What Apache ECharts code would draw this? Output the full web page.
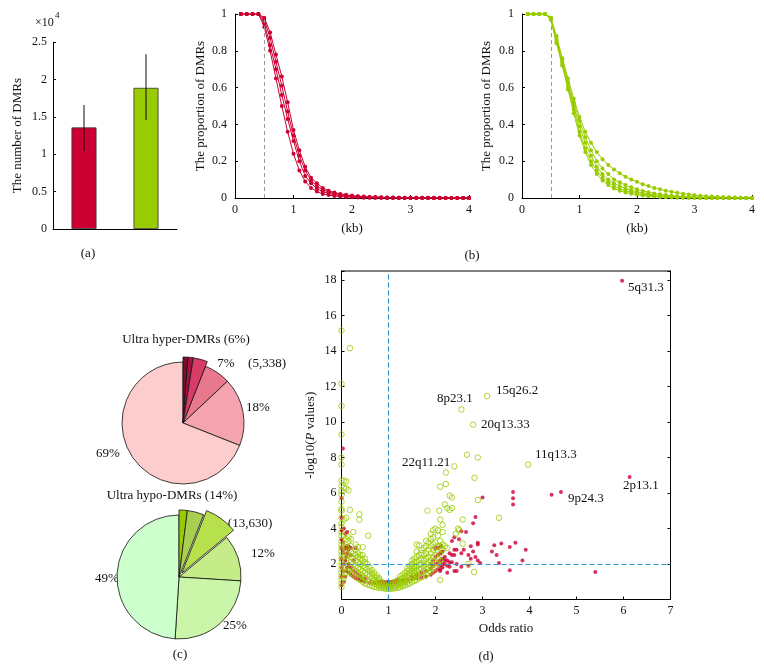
<!DOCTYPE html>
<html><head><meta charset="utf-8">
<script src="https://cdn.jsdelivr.net/npm/echarts@6/dist/echarts.min.js"></script>
<style>html,body{margin:0;padding:0;background:#fff}#c{width:764px;height:670px}</style>
</head><body><div id="c"></div>
<script>
const FONT = '"Liberation Serif", "DejaVu Serif", serif';
const RED = '#CC0033', GREEN = '#99CC00';

// ---------- (a) bar chart (units of 1e4) ----------
const barCategories = ['Hyper-DMRs', 'Hypo-DMRs'];
const barValues = [1.36, 1.89];
const barErrLow = [1.04, 1.46];
const barErrHigh = [1.66, 2.34];

// ---------- (b) proportion curves ----------
const kb = [0.1,0.2,0.3,0.4,0.5,0.6,0.7,0.8,0.9,1.0,1.1,1.2,1.3,1.4,1.5,1.6,1.7,1.8,1.9,2.0,
            2.1,2.2,2.3,2.4,2.5,2.6,2.7,2.8,2.9,3.0,3.1,3.2,3.3,3.4,3.5,3.6,3.7,3.8,3.9,4.0];
const redCurve1 = [1,1,1,1,0.98,0.90,0.78,0.66,0.52,0.37,0.26,0.17,0.11,0.08,0.055,0.04,0.03,0.022,0.017,0.013,0.010,0.008,0.006,0.005,0.004,0.003,0.003,0.002,0.002,0.002,0.001,0.001,0.001,0.001,0.001,0,0,0,0,0];
const redCurve2 = [1,1,1,1,0.97,0.87,0.74,0.61,0.47,0.34,0.23,0.15,0.095,0.065,0.045,0.033,0.025,0.018,0.013,0.010,0.008,0.006,0.005,0.004,0.003,0.002,0.002,0.002,0.001,0.001,0.001,0.001,0.001,0,0,0,0,0,0,0];
const redCurve3 = [1,1,1,1,0.95,0.83,0.70,0.56,0.43,0.31,0.20,0.12,0.08,0.05,0.035,0.025,0.018,0.013,0.010,0.007,0.005,0.004,0.003,0.002,0.002,0.001,0.001,0.001,0,0,0,0,0,0,0,0,0,0,0,0];
const redCurve4 = [1,1,1,1,0.93,0.80,0.65,0.50,0.36,0.24,0.15,0.09,0.055,0.035,0.022,0.016,0.011,0.008,0.006,0.004,0.003,0.002,0.002,0.001,0.001,0,0,0,0,0,0,0,0,0,0,0,0,0,0,0];
const greenCurve1 = [1,1,1,1,0.98,0.88,0.76,0.65,0.54,0.44,0.36,0.30,0.25,0.21,0.18,0.155,0.135,0.115,0.10,0.088,0.075,0.065,0.055,0.047,0.040,0.034,0.028,0.023,0.019,0.015,0.012,0.010,0.008,0.006,0.005,0.004,0.003,0.002,0.002,0.001];
const greenCurve2 = [1,1,1,1,0.98,0.87,0.75,0.63,0.52,0.42,0.33,0.26,0.20,0.16,0.13,0.10,0.085,0.07,0.058,0.047,0.038,0.031,0.025,0.020,0.016,0.013,0.010,0.008,0.007,0.005,0.004,0.004,0.003,0.002,0.002,0.001,0.001,0.001,0,0];
const greenCurve3 = [1,1,1,1,0.98,0.86,0.74,0.62,0.50,0.39,0.30,0.23,0.17,0.13,0.10,0.08,0.065,0.052,0.042,0.034,0.027,0.021,0.017,0.013,0.010,0.008,0.006,0.005,0.004,0.003,0.002,0.002,0.001,0.001,0.001,0,0,0,0,0];
const greenCurve4 = [1,1,1,1,0.97,0.85,0.73,0.60,0.48,0.36,0.27,0.20,0.15,0.11,0.085,0.065,0.05,0.04,0.032,0.025,0.019,0.015,0.011,0.009,0.007,0.005,0.004,0.003,0.002,0.002,0.001,0.001,0.001,0,0,0,0,0,0,0];
const greenCurve5 = [1,1,1,1,0.97,0.84,0.72,0.59,0.46,0.34,0.25,0.18,0.13,0.095,0.07,0.052,0.04,0.03,0.023,0.018,0.013,0.010,0.008,0.006,0.004,0.003,0.002,0.002,0.001,0.001,0.001,0,0,0,0,0,0,0,0,0];
const redCurves = [redCurve1, redCurve2, redCurve3, redCurve4];
const greenCurves = [greenCurve1, greenCurve2, greenCurve3, greenCurve4, greenCurve5];
const kbCutoff = 0.5;

// ---------- (c) pies ----------
const hyperNames = ['h1','h2','h3','7%','18%','69%'];
const hyperValues = [1.2, 1.3, 3.5, 7, 18, 69];
const hyperColors = ['#7A0C2E','#A8123F','#D83C66','#E8788E','#F4A4AE','#FDCDCD'];
const hypoNames = ['o1','o2','o3','12%','25%','49%'];
const hypoValues = [2, 4, 8, 12, 25, 49];
const hypoColors = ['#99CC00','#A9CE50','#B6E04C','#C6EC8A','#CBF5A8','#CCFFCC'];

// ---------- (d) volcano-like scatter ----------
const redPoints = [
 [5.97,17.95],[6.13,6.9],[4.47,5.9],[4.67,6.05],[5.4,1.55],[3.58,1.65],[3.0,5.75],[3.65,6.05],[3.65,5.7],[3.65,5.35],
 [2.85,4.65],[2.8,4.3],[2.55,3.85],[2.65,3.8],[2.4,3.5],[2.35,3.3],[2.5,3.4],[2.75,3.0],[2.9,3.2],[2.9,3.1],
 [3.2,2.7],[3.25,3.05],[3.4,3.15],[3.3,2.5],[3.35,2.05],[3.58,2.95],[3.7,3.2],[3.92,2.8],[3.85,2.2],[2.6,2.8],
 [2.45,2.8],[2.55,2.6],[2.7,2.5],[2.75,2.3],[2.8,2.7],[2.85,2.4],[2.9,2.2],[2.95,2.05],[2.7,1.9],[2.55,1.85],
 [2.45,1.6],[2.3,1.85],[2.35,2.1],[2.4,2.5],[2.3,2.6],[2.2,2.4],[2.2,2.0],[2.15,1.8],[2.1,1.6],[2.25,1.5],
 [2.12,3.0],[2.05,2.9],[2.2,2.2],[2.4,1.6],[2.45,2.0],[2.25,2.2],[2.15,2.3],[2.1,2.6],[2.05,2.1],[2.0,2.4],
 [0,0.8],[0,1.3],[0,1.8],[0,2.3],[0,2.9],[0,3.4],[0,3.9],[0,4.6],[0,5.7],[0.03,8.5],
 [0.03,1.6],[0.03,2.6],[0.03,3.2],[0.05,1.0],[0.05,2.0],[0.05,2.8],[0.05,4.0],[0.08,1.3],[0.08,2.2],[0.08,2.9],
 [0.08,3.7],[0.1,1.6],[0.1,2.4],[0.1,3.0],[0.12,1.8],[0.12,2.6],[0.12,3.8],[0.15,1.5],[0.15,2.0],[0.15,2.8],
 [0.15,3.0],[0.2,1.4],[0.2,1.8],[0.2,2.5],[0.2,2.9],[0.25,1.3],[0.25,1.6],[0.25,2.2],[0.3,1.2],[0.3,1.5],
 [0.3,2.9],[0.35,1.15],[0.35,1.4],[0.4,1.1],[0.4,1.3],[0.45,1.05],[0.5,1.0],[0.5,1.2],[0.6,0.95],[0.7,0.95],
 [0.8,0.95],[0.8,1.0],[0.85,0.9],[0.85,1.0],[0.9,0.88],[0.9,0.98],[0.95,0.87],[0.95,0.97],[1.0,0.88],[1.0,0.98],
 [1.05,0.9],[1.05,1.0],[1.1,0.92],[1.1,1.02],[1.15,0.95],[1.15,1.05],[1.2,1.0],[1.2,1.1],[1.3,1.05],[1.4,1.1],
 [1.5,1.15],[1.5,1.3],[1.6,1.2],[1.6,1.4],[1.7,1.25],[1.7,1.5],[1.8,1.3],[1.8,1.6],[1.9,1.4],[1.9,1.75],
 [1.9,2.0],[1.95,1.5],[1.95,1.9],[1.95,2.2],[2.0,1.6],[2.0,2.0],[2.0,2.9],[2.05,1.7],[2.05,2.5],[2.1,1.7],
 [2.1,1.9],[2.1,2.2],[2.15,2.0],[2.15,2.7],[2.25,1.9],[2.3,2.1],[2.35,2.5],[2.4,2.8]
];
const greenPoints = [
 [0,0.7],[0,0.9],[0,1.1],[0,1.3],[0,1.5],[0,1.7],[0,1.9],[0,2.1],[0,2.3],[0,2.5],[0,2.7],[0,2.9],[0,3.1],[0,3.3],
 [0,3.6],[0,3.8],[0,4.1],[0,4.3],[0,4.6],[0,5.0],[0,5.1],[0,5.5],[0,5.9],[0,6.1],[0,6.4],[0,6.7],[0,7.6],[0,8.0],
 [0,9.3],[0,10.9],[0,12.15],[0,15.15],
 [0.05,1.2],[0.05,1.8],[0.05,2.4],[0.05,3.0],[0.05,3.6],[0.05,4.5],[0.05,6.3],[0.05,6.7],
 [0.1,1.5],[0.1,2.2],[0.1,2.9],[0.1,3.4],[0.1,4.6],[0.1,6.25],[0.1,6.65],
 [0.15,1.6],[0.15,2.5],[0.15,3.3],[0.15,3.5],[0.15,6.15],[0.18,14.15],[0.18,5.05],
 [0.2,1.5],[0.2,1.8],[0.2,2.1],[0.2,2.4],[0.2,2.7],[0.2,3.0],[0.2,3.4],
 [0.25,1.4],[0.25,1.7],[0.25,2.0],[0.25,2.3],[0.25,2.6],[0.25,3.8],
 [0.3,1.3],[0.3,1.6],[0.3,1.9],[0.3,2.2],[0.3,2.5],[0.3,2.8],[0.3,3.1],
 [0.35,1.2],[0.35,1.5],[0.35,1.8],[0.35,2.1],[0.35,2.4],[0.35,2.6],[0.35,2.95],
 [0.38,4.8],[0.38,4.5],
 [0.4,1.1],[0.4,1.4],[0.4,1.7],[0.4,2.0],[0.4,2.3],[0.4,2.5],
 [0.45,1.0],[0.45,1.3],[0.45,1.6],[0.45,1.9],[0.45,2.2],[0.45,2.5],[0.45,2.95],
 [0.5,0.9],[0.5,1.2],[0.5,1.5],[0.5,1.8],[0.5,2.1],[0.5,2.3],
 [0.55,0.85],[0.55,1.1],[0.55,1.4],[0.55,1.7],[0.55,2.0],[0.57,3.6],
 [0.6,0.8],[0.6,1.0],[0.6,1.3],[0.6,1.6],[0.6,1.8],
 [0.65,0.75],[0.65,0.95],[0.65,1.2],[0.65,1.45],[0.65,1.65],
 [0.7,0.7],[0.7,0.9],[0.7,1.1],[0.7,1.3],[0.7,1.5],
 [0.75,0.7],[0.75,0.85],[0.75,1.0],[0.75,1.2],[0.75,1.35],
 [0.8,0.65],[0.8,0.8],[0.8,0.95],[0.8,1.1],[0.8,1.2],
 [0.85,0.65],[0.85,0.75],[0.85,0.9],[0.85,1.0],
 [0.9,0.62],[0.9,0.72],[0.9,0.82],[0.9,0.92],
 [0.95,0.6],[0.95,0.7],[0.95,0.8],
 [1.0,0.6],[1.0,0.68],[1.0,0.78],
 [1.05,0.6],[1.05,0.7],[1.05,0.8],[1.05,0.9],
 [1.1,0.62],[1.1,0.72],[1.1,0.85],[1.1,0.95],
 [1.15,0.64],[1.15,0.75],[1.15,0.9],[1.15,1.0],
 [1.2,0.66],[1.2,0.8],[1.2,0.95],[1.2,1.1],
 [1.25,0.7],[1.25,0.85],[1.25,1.0],[1.25,1.15],[1.25,1.3],
 [1.3,0.75],[1.3,0.9],[1.3,1.05],[1.3,1.2],[1.3,1.4],
 [1.35,0.8],[1.35,0.95],[1.35,1.1],[1.35,1.3],[1.35,1.5],
 [1.4,0.85],[1.4,1.0],[1.4,1.2],[1.4,1.4],[1.4,1.6],[1.4,1.75],
 [1.45,0.9],[1.45,1.1],[1.45,1.3],[1.45,1.5],[1.45,1.7],[1.45,1.9],
 [1.5,1.0],[1.5,1.2],[1.5,1.4],[1.5,1.6],[1.5,1.8],[1.5,2.0],[1.5,2.2],
 [1.55,1.05],[1.55,1.3],[1.55,1.5],[1.55,1.7],[1.55,1.9],[1.55,2.1],[1.55,2.3],
 [1.6,1.1],[1.6,1.35],[1.6,1.6],[1.6,1.85],[1.6,2.1],[1.6,2.4],[1.6,2.7],[1.6,3.1],
 [1.65,1.2],[1.65,1.45],[1.65,1.7],[1.65,1.95],[1.65,2.2],[1.65,2.5],[1.65,3.05],
 [1.7,1.25],[1.7,1.5],[1.7,1.75],[1.7,2.0],[1.7,2.3],[1.7,2.6],[1.7,2.8],
 [1.75,1.3],[1.75,1.6],[1.75,1.9],[1.75,2.2],[1.75,2.5],[1.75,2.9],
 [1.8,1.4],[1.8,1.7],[1.8,2.0],[1.8,2.3],[1.8,2.6],[1.8,3.0],[1.8,3.3],[1.83,5.0],
 [1.85,1.5],[1.85,1.8],[1.85,2.1],[1.85,2.4],[1.85,2.8],[1.85,3.2],
 [1.9,1.55],[1.9,1.9],[1.9,2.2],[1.9,2.6],[1.9,3.0],[1.9,3.4],[1.9,3.7],
 [1.95,1.7],[1.95,2.0],[1.95,2.4],[1.95,2.8],[1.95,3.1],[1.95,3.5],[1.95,3.9],
 [2.0,1.8],[2.0,2.1],[2.0,2.5],[2.0,2.9],[2.0,3.2],[2.0,4.0],
 [2.05,2.0],[2.05,2.3],[2.05,2.7],[2.05,3.0],[2.05,3.6],[2.05,3.9],
 [2.08,5.0],[2.1,6.35],[2.1,1.1],[2.1,2.2],[2.1,2.6],[2.1,3.0],[2.1,3.3],[2.1,4.5],
 [2.15,2.8],[2.15,3.1],[2.15,3.8],[2.15,4.2],
 [2.2,3.0],[2.2,5.35],[2.22,6.5],[2.22,7.15],[2.25,2.9],[2.25,5.15],[2.3,5.05],[2.3,5.85],
 [2.35,5.75],[2.35,5.15],[2.4,7.5],[2.43,3.7],[2.48,4.0],[2.5,3.9],[2.55,10.7],[2.58,3.15],
 [2.58,4.5],[2.67,8.15],[2.7,2.0],[2.8,9.85],[2.82,1.55],[2.83,6.85],[2.9,8.0],[2.9,5.6],
 [3.1,11.45],[3.35,4.6],[3.97,7.6]
];
const oddsCutoff = 1, pCutoff = 2;
const regionLabels = [
  ['5q31.3', 628, 288], ['15q26.2', 496, 391], ['8p23.1', 437, 399], ['20q13.33', 481, 425],
  ['11q13.3', 535, 455], ['22q11.21', 402, 463], ['2p13.1', 623, 486], ['9p24.3', 568, 499]
];

// ---------- helpers ----------
const txt = (s, x, y, size, align, extra) => Object.assign({
  type: 'text', x: x, y: y, silent: true,
  style: { text: s, font: size + 'px ' + FONT, fill: '#111',
           textAlign: align || 'center', align: align || 'center',
           textVerticalAlign: 'middle', verticalAlign: 'middle' }
}, extra || {});
const axisLabelStyle = (m, fmt) => { const o = { color: '#111', fontFamily: FONT, fontSize: 12, margin: m }; if (fmt) o.formatter = fmt; return o; };
const nameStyle = { color: '#111', fontFamily: FONT, fontSize: 13 };
const lineAxis = { show: true, lineStyle: { color: '#000', width: 1 } };
const inTick = { show: true, inside: true, length: 3, lineStyle: { color: '#000' } };

const series = [];

// (a)
series.push({
  type: 'bar', xAxisIndex: 0, yAxisIndex: 0, data: barValues, barWidth: 25, z: 2,
  itemStyle: { color: (p) => [RED, GREEN][p.dataIndex], borderColor: '#333', borderWidth: 0.8 },
  silent: true, animation: false
});
series.push({
  type: 'custom', xAxisIndex: 0, yAxisIndex: 0, silent: true, animation: false, z: 10,
  data: barCategories.map((c, i) => [i, barErrLow[i], barErrHigh[i]]),
  encode: { x: 0, y: [1, 2] },
  renderItem: (params, api) => {
    const lo = api.coord([api.value(0), api.value(1)]);
    const hi = api.coord([api.value(0), api.value(2)]);
    return { type: 'line', z2: 100, shape: { x1: lo[0], y1: lo[1], x2: hi[0], y2: hi[1] },
             style: { stroke: 'rgba(0,0,0,0.8)', lineWidth: 1.2 } };
  }
});

// (b)
function curveSeries(curves, color, axisIdx) {
  curves.forEach((c, k) => {
    const s = {
      type: 'line', xAxisIndex: axisIdx, yAxisIndex: axisIdx, silent: true, animation: false,
      data: kb.map((x, i) => [x, c[i]]), symbol: 'circle', symbolSize: 4, showSymbol: true,
      lineStyle: { color: color, width: 1 }, itemStyle: { color: color }
    };
    if (k === 0) {
      s.markLine = { silent: true, symbol: 'none', label: { show: false }, animation: false,
        lineStyle: { type: [4, 3], color: '#999', width: 1 },
        data: [[{ coord: [kbCutoff, 0] }, { coord: [kbCutoff, 0.97] }]] };
    }
    series.push(s);
  });
}
curveSeries(redCurves, RED, 1);
curveSeries(greenCurves, GREEN, 2);

// (c) pies
function pieSeries(center, r, values, colors, small, rBig, offsetIdx) {
  series.push({
    type: 'pie', center: center, radius: r, startAngle: 90, clockwise: true, silent: true, animation: false,
    label: { show: false }, labelLine: { show: false }, emphasis: { disabled: true },
    data: values.map((v, i) => ({ value: v, name: 'a' + i,
      itemStyle: i < small ? { color: 'rgba(0,0,0,0)', borderWidth: 0 } : { color: colors[i], borderColor: '#111', borderWidth: 0.8 } }))
  });
  series.push({
    type: 'pie', center: center, radius: rBig, startAngle: 90, clockwise: true, silent: true, animation: false,
    selectedMode: 'multiple', selectedOffset: 5,
    label: { show: false }, labelLine: { show: false }, emphasis: { disabled: true },
    data: values.map((v, i) => ({ value: v, name: 'b' + i, selected: i === offsetIdx,
      itemStyle: i < small ? { color: colors[i], borderColor: '#111', borderWidth: 0.8 } : { color: 'rgba(0,0,0,0)', borderWidth: 0 } }))
  });
}
pieSeries([183, 423], 61, hyperValues, hyperColors, 3, 66, -1);
pieSeries([179, 577], 62, hypoValues, hypoColors, 3, 67, 2);

// (d)
series.push({
  type: 'scatter', xAxisIndex: 3, yAxisIndex: 3, data: redPoints, symbol: 'circle', symbolSize: 4,
  itemStyle: { color: RED }, silent: true, animation: false,
  markLine: { silent: true, symbol: 'none', label: { show: false }, animation: false,
    lineStyle: { type: [5, 3], color: '#2F95CF', width: 1.2 },
    data: [{ xAxis: oddsCutoff }, { yAxis: pCutoff }] }
});
series.push({
  type: 'scatter', xAxisIndex: 3, yAxisIndex: 3, data: greenPoints, symbol: 'circle', symbolSize: 5.5,
  itemStyle: { color: 'rgba(255,255,255,0)', borderColor: GREEN, borderWidth: 1 }, silent: true, animation: false
});

const graphics = [
  txt('×10', 35, 23, 12, 'left'), txt('4', 55, 16, 9, 'left'),
  txt('(a)', 88, 254, 13), txt('(b)', 472, 256, 13), txt('(c)', 180, 655, 13), txt('(d)', 486, 657, 13),
  txt('Ultra hyper-DMRs (6%)', 186, 340, 13), txt('7%', 226, 364, 13), txt('(5,338)', 267, 364, 13),
  txt('18%', 258, 408, 13), txt('69%', 108, 454, 13),
  txt('Ultra hypo-DMRs (14%)', 172, 496, 13), txt('(13,630)', 250, 524, 13), txt('12%', 263, 554, 13),
  txt('49%', 107, 579, 13), txt('25%', 235, 626, 13)
].concat(regionLabels.map(l => txt(l[0], l[1], l[2], 13, 'left')));

const option = {
  backgroundColor: '#fff',
  animation: false,
  grid: [
    { left: 53, top: 42.3, width: 124, height: 186.7, outerBoundsMode: 'none', containLabel: false },
    { left: 235, top: 14, width: 234, height: 184, outerBoundsMode: 'none', containLabel: false },
    { left: 522, top: 14, width: 230, height: 184, outerBoundsMode: 'none', containLabel: false },
    { left: 341.5, top: 271, width: 329, height: 328.5, outerBoundsMode: 'none', containLabel: false,
      show: true, borderColor: '#000', borderWidth: 1, backgroundColor: 'rgba(0,0,0,0)' }
  ],
  xAxis: [
    { gridIndex: 0, type: 'category', data: barCategories, axisLine: lineAxis, axisTick: { show: false },
      axisLabel: { show: false }, splitLine: { show: false } },
    { gridIndex: 1, type: 'value', min: 0, max: 4, interval: 1, axisLine: lineAxis, axisTick: inTick,
      axisLabel: axisLabelStyle(6), splitLine: { show: false },
      name: '(kb)', nameLocation: 'middle', nameGap: 24, nameTextStyle: nameStyle },
    { gridIndex: 2, type: 'value', min: 0, max: 4, interval: 1, axisLine: lineAxis, axisTick: inTick,
      axisLabel: axisLabelStyle(6), splitLine: { show: false },
      name: '(kb)', nameLocation: 'middle', nameGap: 24, nameTextStyle: nameStyle },
    { gridIndex: 3, type: 'value', min: 0, max: 7, interval: 1, axisLine: lineAxis, axisTick: inTick,
      axisLabel: axisLabelStyle(5), splitLine: { show: false },
      name: 'Odds ratio', nameLocation: 'middle', nameGap: 23, nameTextStyle: nameStyle }
  ],
  yAxis: [
    { gridIndex: 0, type: 'value', min: 0, max: 2.5, interval: 0.5, axisLine: lineAxis, axisTick: inTick,
      axisLabel: axisLabelStyle(6), splitLine: { show: false },
      name: 'The number of DMRs', nameLocation: 'middle', nameRotate: 90, nameGap: 29, nameTextStyle: nameStyle },
    { gridIndex: 1, type: 'value', min: 0, max: 1, interval: 0.2, axisLine: lineAxis, axisTick: inTick,
      axisLabel: axisLabelStyle(8), splitLine: { show: false },
      name: 'The proportion of DMRs', nameLocation: 'middle', nameRotate: 90, nameGap: 28, nameTextStyle: nameStyle },
    { gridIndex: 2, type: 'value', min: 0, max: 1, interval: 0.2, axisLine: lineAxis, axisTick: inTick,
      axisLabel: axisLabelStyle(8), splitLine: { show: false },
      name: 'The proportion of DMRs', nameLocation: 'middle', nameRotate: 90, nameGap: 29, nameTextStyle: nameStyle },
    { gridIndex: 3, type: 'value', min: 0, max: 18.5, interval: 2, axisLine: lineAxis, axisTick: inTick,
      axisLabel: axisLabelStyle(5, v => (v > 0 && v % 2 === 0) ? String(v) : ''), splitLine: { show: false },
      name: '-log10({i|P} values)', nameLocation: 'middle', nameRotate: 90, nameGap: 24,
      nameTextStyle: Object.assign({}, nameStyle, { rich: { i: { fontStyle: 'italic', fontFamily: FONT, fontSize: 13, color: '#111' } } }) },
    { gridIndex: 3, type: 'value', position: 'right', min: 0, max: 18.5, interval: 2, axisLine: lineAxis,
      axisTick: inTick, axisLabel: { show: false }, splitLine: { show: false } }
  ],
  series: series,
  graphic: graphics
};

const chart = echarts.init(document.getElementById('c'), null, { renderer: 'canvas' });
chart.setOption(option);
</script>
</body></html>
